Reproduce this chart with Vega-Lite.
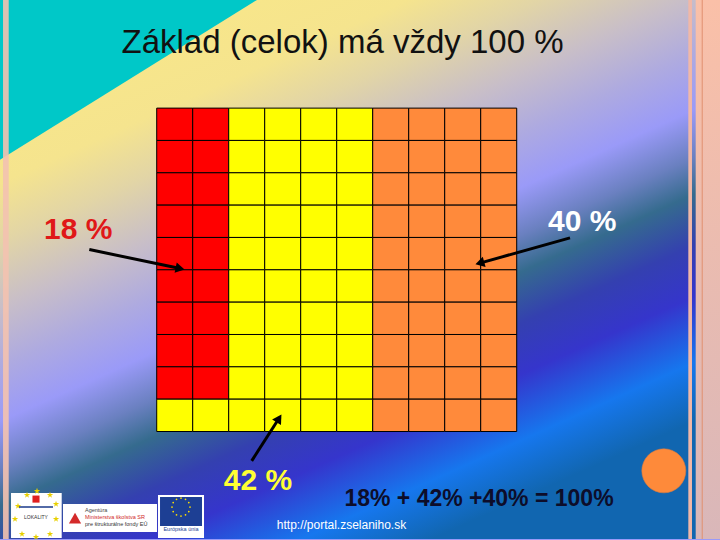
{
  "$schema": "https://vega.github.io/schema/vega-lite/v6.json",
  "autosize": {"type": "fit", "contains": "padding"},
  "width": 720,
  "height": 540,
  "padding": 0,
  "background": "#9a9af8",
  "config": {"view": {"stroke": null}},
  "datasets": {
    "bg": [{"x": -4.353, "x2": 15.647, "y": -3.343, "y2": 13.324}],
    "teal": [{"x": -4.353, "y": -3.343, "y2": 1.596}, {"x": 2.786, "y": -3.343, "y2": -3.343}],
    "leftstrip": [{"x": -4.269, "x2": -4.111, "y": -3.343, "y2": 13.324}],
    "rightstrip": [{"x": 14.767, "x2": 14.869, "y": -3.343, "y2": 13.324}],
    "rightblock": [{"x": 14.972, "x2": 15.647, "y": -3.343, "y2": 13.324}],
    "rightline": [{"x": 15.139, "x2": 15.167, "y": -3.343, "y2": 13.324}],
    "cells": [
      {"x":0,"x2":1,"y":0,"y2":1,"part":"18 %"},{"x":1,"x2":2,"y":0,"y2":1,"part":"18 %"},{"x":2,"x2":3,"y":0,"y2":1,"part":"42 %"},{"x":3,"x2":4,"y":0,"y2":1,"part":"42 %"},{"x":4,"x2":5,"y":0,"y2":1,"part":"42 %"},{"x":5,"x2":6,"y":0,"y2":1,"part":"42 %"},{"x":6,"x2":7,"y":0,"y2":1,"part":"40 %"},{"x":7,"x2":8,"y":0,"y2":1,"part":"40 %"},{"x":8,"x2":9,"y":0,"y2":1,"part":"40 %"},{"x":9,"x2":10,"y":0,"y2":1,"part":"40 %"},
      {"x":0,"x2":1,"y":1,"y2":2,"part":"18 %"},{"x":1,"x2":2,"y":1,"y2":2,"part":"18 %"},{"x":2,"x2":3,"y":1,"y2":2,"part":"42 %"},{"x":3,"x2":4,"y":1,"y2":2,"part":"42 %"},{"x":4,"x2":5,"y":1,"y2":2,"part":"42 %"},{"x":5,"x2":6,"y":1,"y2":2,"part":"42 %"},{"x":6,"x2":7,"y":1,"y2":2,"part":"40 %"},{"x":7,"x2":8,"y":1,"y2":2,"part":"40 %"},{"x":8,"x2":9,"y":1,"y2":2,"part":"40 %"},{"x":9,"x2":10,"y":1,"y2":2,"part":"40 %"},
      {"x":0,"x2":1,"y":2,"y2":3,"part":"18 %"},{"x":1,"x2":2,"y":2,"y2":3,"part":"18 %"},{"x":2,"x2":3,"y":2,"y2":3,"part":"42 %"},{"x":3,"x2":4,"y":2,"y2":3,"part":"42 %"},{"x":4,"x2":5,"y":2,"y2":3,"part":"42 %"},{"x":5,"x2":6,"y":2,"y2":3,"part":"42 %"},{"x":6,"x2":7,"y":2,"y2":3,"part":"40 %"},{"x":7,"x2":8,"y":2,"y2":3,"part":"40 %"},{"x":8,"x2":9,"y":2,"y2":3,"part":"40 %"},{"x":9,"x2":10,"y":2,"y2":3,"part":"40 %"},
      {"x":0,"x2":1,"y":3,"y2":4,"part":"18 %"},{"x":1,"x2":2,"y":3,"y2":4,"part":"18 %"},{"x":2,"x2":3,"y":3,"y2":4,"part":"42 %"},{"x":3,"x2":4,"y":3,"y2":4,"part":"42 %"},{"x":4,"x2":5,"y":3,"y2":4,"part":"42 %"},{"x":5,"x2":6,"y":3,"y2":4,"part":"42 %"},{"x":6,"x2":7,"y":3,"y2":4,"part":"40 %"},{"x":7,"x2":8,"y":3,"y2":4,"part":"40 %"},{"x":8,"x2":9,"y":3,"y2":4,"part":"40 %"},{"x":9,"x2":10,"y":3,"y2":4,"part":"40 %"},
      {"x":0,"x2":1,"y":4,"y2":5,"part":"18 %"},{"x":1,"x2":2,"y":4,"y2":5,"part":"18 %"},{"x":2,"x2":3,"y":4,"y2":5,"part":"42 %"},{"x":3,"x2":4,"y":4,"y2":5,"part":"42 %"},{"x":4,"x2":5,"y":4,"y2":5,"part":"42 %"},{"x":5,"x2":6,"y":4,"y2":5,"part":"42 %"},{"x":6,"x2":7,"y":4,"y2":5,"part":"40 %"},{"x":7,"x2":8,"y":4,"y2":5,"part":"40 %"},{"x":8,"x2":9,"y":4,"y2":5,"part":"40 %"},{"x":9,"x2":10,"y":4,"y2":5,"part":"40 %"},
      {"x":0,"x2":1,"y":5,"y2":6,"part":"18 %"},{"x":1,"x2":2,"y":5,"y2":6,"part":"18 %"},{"x":2,"x2":3,"y":5,"y2":6,"part":"42 %"},{"x":3,"x2":4,"y":5,"y2":6,"part":"42 %"},{"x":4,"x2":5,"y":5,"y2":6,"part":"42 %"},{"x":5,"x2":6,"y":5,"y2":6,"part":"42 %"},{"x":6,"x2":7,"y":5,"y2":6,"part":"40 %"},{"x":7,"x2":8,"y":5,"y2":6,"part":"40 %"},{"x":8,"x2":9,"y":5,"y2":6,"part":"40 %"},{"x":9,"x2":10,"y":5,"y2":6,"part":"40 %"},
      {"x":0,"x2":1,"y":6,"y2":7,"part":"18 %"},{"x":1,"x2":2,"y":6,"y2":7,"part":"18 %"},{"x":2,"x2":3,"y":6,"y2":7,"part":"42 %"},{"x":3,"x2":4,"y":6,"y2":7,"part":"42 %"},{"x":4,"x2":5,"y":6,"y2":7,"part":"42 %"},{"x":5,"x2":6,"y":6,"y2":7,"part":"42 %"},{"x":6,"x2":7,"y":6,"y2":7,"part":"40 %"},{"x":7,"x2":8,"y":6,"y2":7,"part":"40 %"},{"x":8,"x2":9,"y":6,"y2":7,"part":"40 %"},{"x":9,"x2":10,"y":6,"y2":7,"part":"40 %"},
      {"x":0,"x2":1,"y":7,"y2":8,"part":"18 %"},{"x":1,"x2":2,"y":7,"y2":8,"part":"18 %"},{"x":2,"x2":3,"y":7,"y2":8,"part":"42 %"},{"x":3,"x2":4,"y":7,"y2":8,"part":"42 %"},{"x":4,"x2":5,"y":7,"y2":8,"part":"42 %"},{"x":5,"x2":6,"y":7,"y2":8,"part":"42 %"},{"x":6,"x2":7,"y":7,"y2":8,"part":"40 %"},{"x":7,"x2":8,"y":7,"y2":8,"part":"40 %"},{"x":8,"x2":9,"y":7,"y2":8,"part":"40 %"},{"x":9,"x2":10,"y":7,"y2":8,"part":"40 %"},
      {"x":0,"x2":1,"y":8,"y2":9,"part":"18 %"},{"x":1,"x2":2,"y":8,"y2":9,"part":"18 %"},{"x":2,"x2":3,"y":8,"y2":9,"part":"42 %"},{"x":3,"x2":4,"y":8,"y2":9,"part":"42 %"},{"x":4,"x2":5,"y":8,"y2":9,"part":"42 %"},{"x":5,"x2":6,"y":8,"y2":9,"part":"42 %"},{"x":6,"x2":7,"y":8,"y2":9,"part":"40 %"},{"x":7,"x2":8,"y":8,"y2":9,"part":"40 %"},{"x":8,"x2":9,"y":8,"y2":9,"part":"40 %"},{"x":9,"x2":10,"y":8,"y2":9,"part":"40 %"},
      {"x":0,"x2":1,"y":9,"y2":10,"part":"42 %"},{"x":1,"x2":2,"y":9,"y2":10,"part":"42 %"},{"x":2,"x2":3,"y":9,"y2":10,"part":"42 %"},{"x":3,"x2":4,"y":9,"y2":10,"part":"42 %"},{"x":4,"x2":5,"y":9,"y2":10,"part":"42 %"},{"x":5,"x2":6,"y":9,"y2":10,"part":"42 %"},{"x":6,"x2":7,"y":9,"y2":10,"part":"40 %"},{"x":7,"x2":8,"y":9,"y2":10,"part":"40 %"},{"x":8,"x2":9,"y":9,"y2":10,"part":"40 %"},{"x":9,"x2":10,"y":9,"y2":10,"part":"40 %"}
    ],
    "arrows": [
      {"x": -1.872, "y": 4.373, "x2": 0.62, "y2": 4.953},
      {"x": 11.481, "y": 4.012, "x2": 9.0, "y2": 4.786},
      {"x": 2.639, "y": 10.907, "x2": 3.385, "y2": 9.615}
    ],
    "head18": [{"x": 0.65, "y": 4.96}],
    "head40": [{"x": 8.975, "y": 4.793}],
    "head42": [{"x": 3.397, "y": 9.596}],
    "title": [{"x": 5.161, "y": -1.707, "label": "Základ (celok) má vždy 100 %"}],
    "t18": [{"x": -2.178, "y": 4.043, "label": "18 %"}],
    "t40": [{"x": 11.819, "y": 3.809, "label": "40 %"}],
    "t42": [{"x": 2.814, "y": 11.812, "label": "42 %"}],
    "equation": [{"x": 8.953, "y": 12.315, "label": "18% + 42% +40% = 100%"}],
    "url": [{"x": 5.133, "y": 13.015, "label": "http://portal.zselaniho.sk"}],
    "dot": [{"x": 14.086, "y": 11.216}],
    "logoboxes": [
      {"x": -4.047, "x2": -2.639, "y": 11.904, "y2": 13.293},
      {"x": -2.603, "x2": 0.008, "y": 12.244, "y2": 13.108},
      {"x": 0.036, "x2": 1.314, "y": 11.966, "y2": 13.293}
    ],
    "euflag": [{"x": 0.092, "x2": 1.258, "y": 12.028, "y2": 12.923}],
    "eustars": [
      {"x": 0.925, "y": 12.336}, {"x": 0.891, "y": 12.198}, {"x": 0.8, "y": 12.096}, {"x": 0.675, "y": 12.059},
      {"x": 0.55, "y": 12.096}, {"x": 0.458, "y": 12.198}, {"x": 0.425, "y": 12.336}, {"x": 0.458, "y": 12.475},
      {"x": 0.55, "y": 12.577}, {"x": 0.675, "y": 12.614}, {"x": 0.8, "y": 12.577}, {"x": 0.891, "y": 12.475}
    ],
    "logo1stars": [
      {"x": -3.603, "y": 11.966}, {"x": -3.325, "y": 11.843}, {"x": -2.964, "y": 11.966}, {"x": -3.853, "y": 12.306},
      {"x": -2.797, "y": 12.244}, {"x": -3.936, "y": 12.707}, {"x": -2.797, "y": 12.707}, {"x": -3.742, "y": 13.17},
      {"x": -3.353, "y": 13.262}, {"x": -2.964, "y": 13.17}
    ],
    "logo1red": [{"x": -3.353, "y": 12.09}],
    "logo1wave": [{"x": -3.825, "y": 12.336, "x2": -2.880, "y2": 12.336}],
    "logo1text": [{"x": -3.353, "y": 12.72, "label": "LOKALITY"}],
    "logo2book": [{"x": -2.269, "y": 12.68}],
    "logo2a": [{"x": -1.992, "y": 12.475, "label": "Agentúra"}],
    "logo2b": [{"x": -1.992, "y": 12.691, "label": "Ministerstva školstva SR"}],
    "logo2c": [{"x": -1.992, "y": 12.907, "label": "pre štrukturálne fondy EÚ"}],
    "eutext": [{"x": 0.675, "y": 13.068, "label": "Európska únia"}]
  },
  "encoding": {
    "x": {"field": "x", "type": "quantitative", "scale": {"domain": [-4.353, 15.647], "nice": false, "zero": false}, "axis": null},
    "y": {"field": "y", "type": "quantitative", "scale": {"domain": [-3.343, 13.324], "nice": false, "zero": false, "reverse": true}, "axis": null}
  },
  "layer": [
    {
      "data": {"name": "bg"},
      "mark": {"type": "rect", "strokeWidth": 0, "fill": {"gradient": "linear", "x1": 0, "y1": 0, "x2": 0.6, "y2": 1, "stops": [
        {"offset": 0, "color": "#fbe985"},
        {"offset": 0.25, "color": "#f5e48e"},
        {"offset": 0.33, "color": "#e2d5a6"},
        {"offset": 0.42, "color": "#c8bec8"},
        {"offset": 0.5, "color": "#aeaae0"},
        {"offset": 0.575, "color": "#9a9af8"},
        {"offset": 0.64, "color": "#6a80c0"},
        {"offset": 0.69, "color": "#356b8e"},
        {"offset": 0.76, "color": "#3440b0"},
        {"offset": 0.83, "color": "#3535cc"},
        {"offset": 0.92, "color": "#1677ee"},
        {"offset": 1, "color": "#1166b0"}
      ]}},
      "encoding": {"x2": {"field": "x2"}, "y2": {"field": "y2"}}
    },
    {
      "data": {"name": "teal"},
      "mark": {"type": "area", "color": "#00c8c8", "opacity": 1},
      "encoding": {"y2": {"field": "y2"}}
    },
    {
      "data": {"name": "leftstrip"},
      "mark": {"type": "rect", "color": "#f3c2b0", "opacity": 0.9},
      "encoding": {"x2": {"field": "x2"}, "y2": {"field": "y2"}}
    },
    {
      "data": {"name": "rightstrip"},
      "mark": {"type": "rect", "color": "#f0b8a8"},
      "encoding": {"x2": {"field": "x2"}, "y2": {"field": "y2"}}
    },
    {
      "data": {"name": "rightblock"},
      "mark": {"type": "rect", "strokeWidth": 0, "fill": {"gradient": "linear", "x1": 0, "y1": 0, "x2": 0, "y2": 1, "stops": [
        {"offset": 0, "color": "#fac0a8"},
        {"offset": 1, "color": "#d9b7b9"}
      ]}},
      "encoding": {"x2": {"field": "x2"}, "y2": {"field": "y2"}}
    },
    {
      "data": {"name": "rightline"},
      "mark": {"type": "rect", "color": "#e09070"},
      "encoding": {"x2": {"field": "x2"}, "y2": {"field": "y2"}}
    },
    {
      "data": {"name": "cells"},
      "mark": {"type": "rect", "stroke": "#000000", "strokeWidth": 1, "opacity": 1},
      "encoding": {
        "x2": {"field": "x2"},
        "y2": {"field": "y2"},
        "fill": {"field": "part", "type": "nominal", "scale": {"domain": ["18 %", "42 %", "40 %"], "range": ["#ff0000", "#ffff00", "#ff8a3b"]}, "legend": null}
      }
    },
    {
      "data": {"name": "arrows"},
      "mark": {"type": "rule", "color": "#000000", "strokeWidth": 3},
      "encoding": {"x2": {"field": "x2"}, "y2": {"field": "y2"}}
    },
    {
      "data": {"name": "head18"},
      "mark": {"type": "point", "shape": "triangle-right", "filled": true, "color": "#000000", "size": 110, "angle": 11.8, "opacity": 1},
      "encoding": {}
    },
    {
      "data": {"name": "head40"},
      "mark": {"type": "point", "shape": "triangle-left", "filled": true, "color": "#000000", "size": 110, "angle": -15.7, "opacity": 1},
      "encoding": {}
    },
    {
      "data": {"name": "head42"},
      "mark": {"type": "point", "shape": "triangle-up", "filled": true, "color": "#000000", "size": 110, "angle": 32.7, "opacity": 1},
      "encoding": {}
    },
    {
      "data": {"name": "title"},
      "mark": {"type": "text", "font": "Liberation Sans", "fontSize": 33, "color": "#111111", "align": "center", "baseline": "alphabetic"},
      "encoding": {"text": {"field": "label"}}
    },
    {
      "data": {"name": "t18"},
      "mark": {"type": "text", "font": "Liberation Sans", "fontSize": 30, "fontWeight": "bold", "color": "#e01818", "align": "center", "baseline": "alphabetic"},
      "encoding": {"text": {"field": "label"}}
    },
    {
      "data": {"name": "t40"},
      "mark": {"type": "text", "font": "Liberation Sans", "fontSize": 30, "fontWeight": "bold", "color": "#ffffff", "align": "center", "baseline": "alphabetic"},
      "encoding": {"text": {"field": "label"}}
    },
    {
      "data": {"name": "t42"},
      "mark": {"type": "text", "font": "Liberation Sans", "fontSize": 30, "fontWeight": "bold", "color": "#ffff33", "align": "center", "baseline": "alphabetic"},
      "encoding": {"text": {"field": "label"}}
    },
    {
      "data": {"name": "equation"},
      "mark": {"type": "text", "font": "Liberation Sans", "fontSize": 23, "fontWeight": "bold", "color": "#0d0d2a", "align": "center", "baseline": "alphabetic"},
      "encoding": {"text": {"field": "label"}}
    },
    {
      "data": {"name": "url"},
      "mark": {"type": "text", "font": "Liberation Sans", "fontSize": 12, "color": "#ffffff", "align": "center", "baseline": "alphabetic"},
      "encoding": {"text": {"field": "label"}}
    },
    {
      "data": {"name": "dot"},
      "mark": {"type": "point", "shape": "circle", "filled": true, "color": "#fe8a3a", "size": 1936, "opacity": 1, "stroke": "#d87a40", "strokeWidth": 0.6},
      "encoding": {}
    },
    {
      "data": {"name": "logoboxes"},
      "mark": {"type": "rect", "color": "#ffffff"},
      "encoding": {"x2": {"field": "x2"}, "y2": {"field": "y2"}}
    },
    {
      "data": {"name": "euflag"},
      "mark": {"type": "rect", "color": "#1d3f94"},
      "encoding": {"x2": {"field": "x2"}, "y2": {"field": "y2"}}
    },
    {
      "data": {"name": "eustars"},
      "mark": {"type": "point", "shape": "circle", "filled": true, "color": "#ffe000", "size": 3, "opacity": 1},
      "encoding": {}
    },
    {
      "data": {"name": "logo1stars"},
      "mark": {"type": "point", "shape": "M0,-1L0.225,-0.309L0.951,-0.309L0.363,0.118L0.588,0.809L0,0.382L-0.588,0.809L-0.363,0.118L-0.951,-0.309L-0.225,-0.309Z", "filled": true, "color": "#e8d000", "size": 45, "opacity": 1},
      "encoding": {}
    },
    {
      "data": {"name": "logo1red"},
      "mark": {"type": "point", "shape": "square", "filled": true, "color": "#e02020", "size": 50, "opacity": 1},
      "encoding": {}
    },
    {
      "data": {"name": "logo1wave"},
      "mark": {"type": "rule", "color": "#1a3a8a", "strokeWidth": 1.5},
      "encoding": {"x2": {"field": "x2"}, "y2": {"field": "y2"}}
    },
    {
      "data": {"name": "logo1text"},
      "mark": {"type": "text", "font": "Liberation Sans", "fontSize": 5, "color": "#333333", "align": "center", "baseline": "alphabetic"},
      "encoding": {"text": {"field": "label"}}
    },
    {
      "data": {"name": "logo2book"},
      "mark": {"type": "point", "shape": "triangle-up", "filled": true, "color": "#d42a2a", "size": 150, "opacity": 1},
      "encoding": {}
    },
    {
      "data": {"name": "logo2a"},
      "mark": {"type": "text", "font": "Liberation Sans", "fontSize": 5.5, "color": "#444444", "align": "left", "baseline": "alphabetic"},
      "encoding": {"text": {"field": "label"}}
    },
    {
      "data": {"name": "logo2b"},
      "mark": {"type": "text", "font": "Liberation Sans", "fontSize": 5.5, "color": "#d02828", "align": "left", "baseline": "alphabetic"},
      "encoding": {"text": {"field": "label"}}
    },
    {
      "data": {"name": "logo2c"},
      "mark": {"type": "text", "font": "Liberation Sans", "fontSize": 5.5, "color": "#333333", "align": "left", "baseline": "alphabetic"},
      "encoding": {"text": {"field": "label"}}
    },
    {
      "data": {"name": "eutext"},
      "mark": {"type": "text", "font": "Liberation Sans", "fontSize": 5.5, "color": "#1d3f94", "align": "center", "baseline": "alphabetic"},
      "encoding": {"text": {"field": "label"}}
    }
  ]
}
